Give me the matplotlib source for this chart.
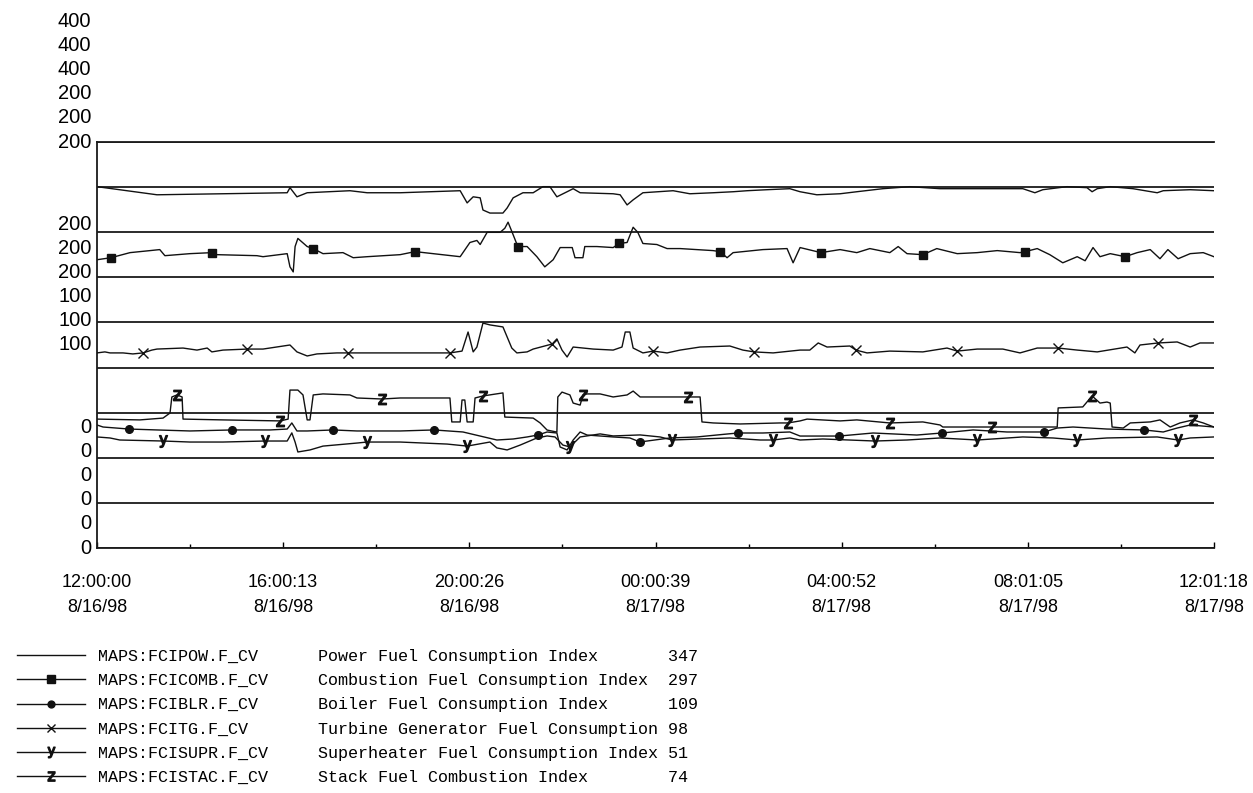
import numpy as np
import matplotlib
matplotlib.use("Agg")
import matplotlib.pyplot as plt
from matplotlib.lines import Line2D

# trend window: 12:00:00 8/16/98 .. 12:01:18 8/17/98, x in hours from start
SPAN_HOURS = 24 + 78 / 3600
TICK_LABELS = ["12:00:00\n8/16/98", "16:00:13\n8/16/98", "20:00:26\n8/16/98",
               "00:00:39\n8/17/98", "04:00:52\n8/17/98", "08:01:05\n8/17/98",
               "12:01:18\n8/17/98"]

TAGS = ["MAPS:FCIPOW.F_CV", "MAPS:FCICOMB.F_CV", "MAPS:FCIBLR.F_CV",
        "MAPS:FCITG.F_CV", "MAPS:FCISUPR.F_CV", "MAPS:FCISTAC.F_CV"]
DESCRIPTIONS = ["Power Fuel Consumption Index", "Combustion Fuel Consumption Index",
                "Boiler Fuel Consumption Index", "Turbine Generator Fuel Consumption",
                "Superheater Fuel Consumption Index", "Stack Fuel Combustion Index"]
CURRENT = [347, 297, 109, 98, 51, 74]
SCALE_MAX = [400, 400, 400, 200, 200, 200]

pow_t = [0.00, 1.29, 4.09, 4.15, 4.30, 4.52, 5.44, 5.81, 6.52, 7.81, 7.96, 8.09, 8.24, 8.30,
         8.45, 8.73, 8.82, 8.95, 9.16, 9.38, 9.59, 9.74, 9.89, 10.11, 10.24, 10.39, 11.10,
         11.25, 11.40, 11.53, 11.74, 12.39, 12.75, 13.25, 13.68, 13.98, 14.41, 14.90, 15.12,
         15.48, 15.98, 16.34, 16.90, 17.48, 18.13, 18.93, 19.91, 20.17, 20.34, 20.86, 21.29,
         21.40, 21.51, 21.79, 22.28, 22.80, 22.93, 23.51, 24.02]
pow_v = [356, 348, 350, 355, 346, 350, 352, 350, 350, 352, 340, 346, 345, 333, 330, 330, 335,
         345, 350, 350, 356, 356, 346, 351, 354, 350, 349, 348, 338, 343, 350, 352, 349, 350,
         351, 352, 353, 354, 351, 348, 349, 351, 354, 356, 354, 354, 354, 350, 353, 356, 355,
         351, 354, 356, 354, 350, 352, 353, 352]

comb_t = [0.00, 0.30, 0.71, 1.14, 1.35, 1.46, 2.00, 2.47, 2.58, 3.44, 3.57, 4.09, 4.15, 4.22,
          4.26, 4.32, 4.52, 4.65, 4.86, 5.29, 5.51, 5.81, 6.52, 6.84, 7.81, 8.02, 8.17, 8.24,
          8.39, 8.67, 8.77, 8.84, 8.92, 9.05, 9.25, 9.46, 9.63, 9.81, 9.96, 10.22, 10.28, 10.45,
          10.49, 10.75, 11.10, 11.23, 11.40, 11.53, 11.63, 11.74, 12.04, 12.26, 12.54, 13.25,
          13.40, 13.55, 13.68, 14.32, 14.84, 14.97, 15.08, 15.12, 15.57, 15.98, 16.34, 16.62,
          17.05, 17.23, 17.42, 17.76, 18.06, 18.50, 18.93, 19.36, 19.85, 19.96, 20.22, 20.49,
          20.77, 21.08, 21.25, 21.42, 21.57, 21.79, 22.11, 22.37, 22.65, 22.86, 23.03, 23.25,
          23.51, 23.79, 24.02]
comb_v = [284, 286, 291, 293, 294, 288, 290, 291, 289, 288, 287, 290, 277, 272, 297, 305, 297,
          295, 290, 291, 286, 287, 289, 292, 287, 301, 303, 299, 311, 311, 315, 321, 312, 297,
          297, 287, 277, 284, 296, 296, 286, 286, 297, 297, 296, 300, 301, 316, 311, 300, 299,
          295, 295, 293, 292, 286, 291, 294, 295, 281, 292, 296, 291, 294, 291, 295, 291, 297,
          290, 289, 295, 290, 291, 293, 291, 292, 295, 289, 281, 287, 283, 296, 287, 290, 287,
          291, 294, 285, 294, 285, 290, 291, 287]

boil_t = [0.00, 0.13, 0.69, 1.29, 2.00, 2.90, 3.72, 4.09, 4.19, 4.30, 4.52, 5.08, 5.59, 6.52,
          7.25, 7.87, 8.24, 8.60, 8.95, 9.25, 9.48, 9.68, 9.89, 9.96, 10.11, 10.24, 10.39,
          10.54, 11.10, 11.46, 11.68, 11.83, 12.32, 12.90, 13.55, 13.79, 14.32, 14.90, 15.12,
          15.96, 16.69, 17.63, 18.17, 18.84, 19.57, 20.37, 20.65, 20.99, 21.72, 22.52, 22.93,
          23.23, 23.51, 24.02]
boil_v = [121.2, 119.2, 117.2, 116.3, 115.3, 116.3, 116.3, 117.2, 123.2, 115.3, 115.3, 116.3,
          115.3, 115.3, 116.3, 114.3, 110.3, 106.4, 107.4, 109.4, 111.3, 114.3, 113.3, 99.5,
          96.6, 106.4, 114.3, 111.3, 109.4, 108.4, 104.4, 105.4, 108.4, 109.4, 112.3, 113.3,
          113.3, 114.3, 110.3, 110.3, 113.3, 111.3, 113.3, 116.3, 114.3, 114.3, 118.2, 119.2,
          117.2, 116.3, 114.3, 118.2, 121.2, 119.2]

turb_t = [0.00, 0.17, 0.28, 0.56, 0.77, 0.99, 1.18, 1.29, 1.85, 2.15, 2.37, 2.47, 2.71, 3.23,
          3.57, 4.15, 4.30, 4.52, 4.73, 5.16, 5.40, 5.94, 6.52, 7.16, 7.59, 7.85, 7.98, 8.09,
          8.17, 8.30, 8.45, 8.73, 8.92, 9.03, 9.25, 9.38, 9.79, 9.89, 10.00, 10.11, 10.24,
          10.67, 11.10, 11.29, 11.36, 11.46, 11.53, 11.74, 11.96, 12.26, 12.54, 12.97, 13.61,
          13.89, 14.13, 14.54, 15.12, 15.33, 15.51, 15.70, 16.19, 16.32, 16.56, 17.05, 17.76,
          18.28, 18.50, 18.93, 19.48, 19.85, 20.22, 20.67, 21.08, 21.51, 22.15, 22.32, 22.43,
          22.82, 23.23, 23.51, 23.72, 24.02]
turb_v = [96.1, 96.6, 96.1, 96.1, 95.6, 96.1, 97.5, 98.0, 98.5, 97.5, 98.5, 96.6, 97.5, 98.0,
          98.0, 100.0, 96.6, 94.6, 95.6, 96.1, 96.1, 96.1, 96.1, 96.1, 96.1, 97.0, 106.4, 96.6,
          99.0, 110.8, 109.9, 108.9, 98.5, 96.1, 96.6, 98.0, 100.5, 103.0, 97.5, 94.1, 99.0,
          98.0, 97.5, 99.0, 106.4, 106.4, 98.5, 96.1, 97.0, 96.1, 97.5, 99.0, 99.5, 97.5, 96.6,
          96.1, 97.5, 97.5, 101.0, 99.0, 99.5, 97.5, 96.1, 97.0, 96.6, 98.5, 97.0, 98.0, 98.0,
          96.1, 98.5, 98.5, 97.5, 96.6, 99.0, 96.1, 100.0, 101.0, 101.5, 99.0, 101.0, 101.0]

sup_t = [0.00, 0.28, 0.49, 1.42, 2.00, 2.71, 3.61, 4.09, 4.19, 4.26, 4.32, 4.58, 4.86, 5.59,
         5.81, 6.52, 7.53, 7.96, 8.45, 8.60, 8.82, 9.10, 9.46, 9.68, 9.85, 10.02, 10.17, 10.39,
         10.82, 11.10, 11.68, 12.11, 12.37, 12.97, 13.61, 14.26, 14.54, 14.90, 15.12, 15.61,
         16.73, 17.42, 18.13, 18.93, 19.91, 20.56, 21.08, 21.72, 22.80, 23.25, 23.51, 24.02]
sup_v = [54.7, 54.2, 53.2, 52.7, 52.2, 52.2, 52.7, 52.7, 56.7, 52.2, 47.3, 48.3, 50.2, 51.7,
         52.2, 52.2, 51.2, 50.2, 52.2, 49.3, 48.3, 50.7, 54.2, 55.2, 54.7, 50.7, 49.8, 54.7,
         56.2, 55.2, 55.7, 54.7, 53.2, 53.7, 54.2, 53.2, 53.2, 54.2, 53.2, 53.7, 52.7, 53.2,
         54.2, 53.2, 54.7, 54.2, 53.2, 54.2, 54.7, 53.2, 54.2, 54.7]

stac_t = [0.00, 0.92, 1.42, 1.57, 1.61, 1.72, 1.83, 1.85, 2.71, 3.94,
          4.11, 4.15, 4.32, 4.43, 4.52, 4.58, 4.65, 4.86, 5.44, 5.59,
          6.13, 6.52, 7.59, 7.63, 7.81, 7.85, 7.91, 7.96, 8.09, 8.13,
          8.30, 8.73, 8.77, 9.38, 9.53, 9.68, 9.89, 9.91, 10.00, 10.17,
          10.24, 10.39, 10.45, 10.54, 10.82, 11.10, 11.40, 11.53, 11.68, 12.54,
          12.71, 12.97, 13.01, 13.25, 13.83, 14.69, 14.86, 15.12, 15.27, 15.98,
          16.34, 17.05, 17.76, 18.13, 18.19, 19.25, 19.91, 20.65, 20.67, 21.20,
          21.40, 21.57, 21.72, 21.79, 21.83, 22.07, 22.22, 22.65, 22.86, 23.08,
          23.29, 23.57, 23.79, 24.02]
stac_v = [63.5, 63.1, 64.0, 66.5, 74.4, 75.4, 74.4, 63.5, 63.1, 62.6,
          63.5, 77.8, 77.8, 75.4, 63.1, 63.1, 75.4, 75.9, 75.4, 73.9,
          73.4, 73.9, 73.9, 62.1, 62.1, 72.9, 72.9, 62.1, 62.1, 73.9,
          74.9, 76.4, 64.5, 64.0, 61.6, 58.1, 57.1, 74.4, 76.8, 75.4,
          71.4, 70.4, 75.4, 75.9, 75.9, 74.4, 75.4, 77.3, 74.4, 74.4,
          74.4, 74.4, 62.1, 61.6, 61.1, 61.6, 61.6, 62.6, 63.5, 62.6,
          63.1, 61.6, 62.1, 60.6, 59.6, 59.6, 59.6, 59.6, 69.0, 69.5,
          74.9, 71.4, 71.9, 71.4, 59.6, 59.1, 61.6, 62.1, 63.1, 59.6,
          61.6, 63.1, 61.6, 59.6]

# marker glyph, size, and hour of the first of the 11 evenly spaced markers
STYLES = [
    dict(marker=None, ms=0, first=None),
    dict(marker="s", ms=6, first=0.28),
    dict(marker="o", ms=5.5, first=0.69),
    dict(marker="x", ms=6.5, first=0.97),
    dict(marker=r"$\mathtt{y}$", ms=8.5, first=1.42),
    dict(marker=r"$\mathtt{z}$", ms=7.5, first=1.72),
]
SERIES = [(pow_t, pow_v), (comb_t, comb_v), (boil_t, boil_v),
          (turb_t, turb_v), (sup_t, sup_v), (stac_t, stac_v)]


def marker_indices(t, first):
    t = np.asarray(t)
    when = first + SPAN_HOURS / 11 * np.arange(11)
    return [int(np.argmin(np.abs(t - w))) for w in when]


W, H = 1253, 793
fig = plt.figure(figsize=(W / 100, H / 100), dpi=100)
ax = fig.add_axes([97 / W, 1 - 548 / H, 1117 / W, 406 / H])
ax2 = ax.twinx()
ax.set_ylim(0, 400)
ax2.set_ylim(0, 200)
ax.set_xlim(0, SPAN_HOURS)
ax2.set_axis_off()

for k, ((t, v), st) in enumerate(zip(SERIES, STYLES)):
    target = ax if SCALE_MAX[k] == 400 else ax2
    kw = dict(color="#111111", lw=1.0)
    if st["marker"] is not None:
        kw.update(marker=st["marker"], ms=st["ms"], mew=1.0,
                  markevery=marker_indices(t, st["first"]))
    target.plot(t, v, **kw)

# nine-band horizontal grid
ax.set_yticks(np.linspace(0, 400, 10))
ax.yaxis.grid(True, color="#1a1a1a", lw=1.3)
ax.tick_params(axis="y", left=False, labelleft=False)
for side in ("top", "bottom", "left"):
    ax.spines[side].set_color("#1a1a1a")
    ax.spines[side].set_linewidth(1.3)
ax.spines["right"].set_visible(False)

ax.set_xticks(np.linspace(0, SPAN_HOURS, 7))
ax.set_xticks(np.linspace(0, SPAN_HOURS, 13), minor=True)
ax.set_xticklabels(TICK_LABELS, fontsize=13, family="Liberation Sans", linespacing=1.6)
ax.tick_params(axis="x", which="major", direction="in", length=4, width=1, pad=19)
ax.tick_params(axis="x", which="minor", direction="in", length=3, width=1)

# stacked scale labels: max / mid / zero for each trace
for k, mx in enumerate(SCALE_MAX):
    for frac, val in ((1.0, mx), (0.5, mx // 2), (0.0, 0)):
        ax.annotate(f"{val}", xy=(0, frac), xycoords="axes fraction",
                    xytext=(-4, (5 - k) * 17.4), textcoords="offset points",
                    ha="right", va="center", fontsize=14.5, family="Liberation Sans",
                    annotation_clip=False)

handles = []
labels = []
for k, st in enumerate(STYLES):
    handles.append(Line2D([], [], color="#111111", lw=1.0, marker=st["marker"],
                          ms=st["ms"] * 0.9, mew=1.0))
    labels.append(f"{TAGS[k]:<22}{DESCRIPTIONS[k]:<35}{CURRENT[k]}")
fig.legend(handles, labels, loc="upper left", bbox_to_anchor=(17 / W, 1 - 649 / H),
           frameon=False, prop={"family": "Liberation Mono", "size": 12.1},
           handlelength=4.05, handletextpad=0.77, labelspacing=0.55,
           borderpad=0, borderaxespad=0, numpoints=1)

fig.savefig("out.png", dpi=100)
